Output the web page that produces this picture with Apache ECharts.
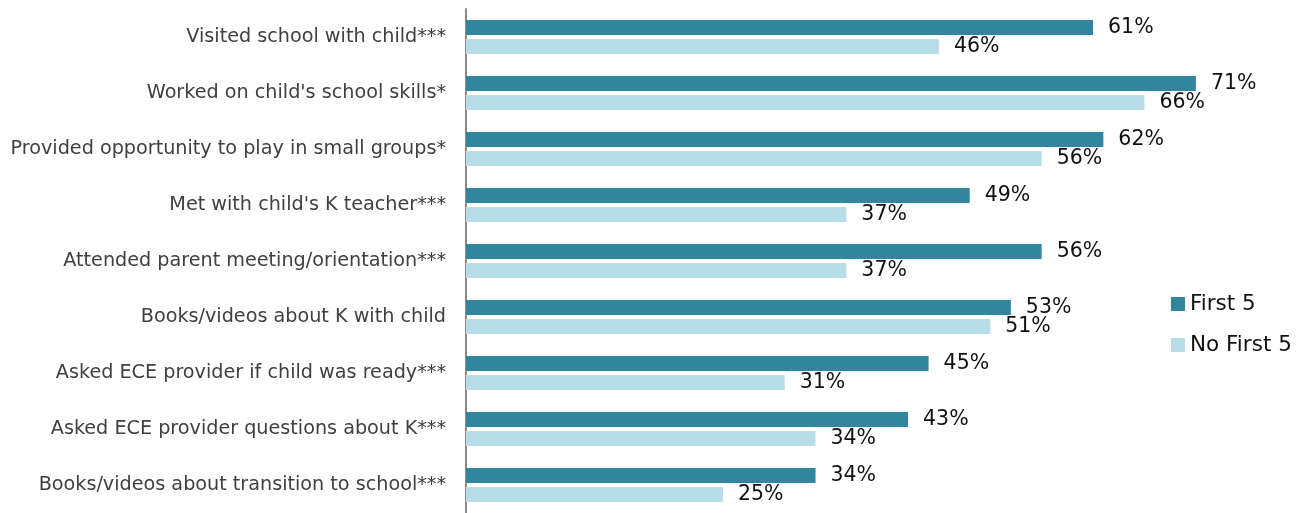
<!DOCTYPE html>
<html><head><meta charset="utf-8">
<script src="https://cdn.jsdelivr.net/npm/echarts@6/dist/echarts.min.js"></script>
<style>html,body{margin:0;padding:0;background:#fff}#c{width:1303px;height:513px}</style>
</head><body><div id="c"></div>
<script>
const categories = [
  "Visited school with child***",
  "Worked on child's school skills*",
  "Provided opportunity to play in small groups*",
  "Met with child's K teacher***",
  "Attended parent meeting/orientation***",
  "Books/videos about K with child",
  "Asked ECE provider if child was ready***",
  "Asked ECE provider questions about K***",
  "Books/videos about transition to school***"
];
const first5 = [61, 71, 62, 49, 56, 53, 45, 43, 34];
const noFirst5 = [46, 66, 56, 37, 37, 51, 31, 34, 25];
const seriesNames = ["First 5", "No First 5"];

const FONT = "DejaVu Sans";
const chart = echarts.init(document.getElementById('c'));
chart.setOption({
  animation: false,
  textStyle: {fontFamily: FONT},
  grid: {left: 466, top: 9, height: 507, width: 822.4, containLabel: false},
  legend: {
    orient: 'vertical', left: 1166, top: 288, itemWidth: 14, itemHeight: 14, itemGap: 19,
    icon: 'rect',
    textStyle: {fontFamily: FONT, fontSize: 21.5, color: '#111'},
    data: seriesNames
  },
  xAxis: {type: 'value', min: 0, max: 80, show: false},
  yAxis: {
    type: 'category', data: categories, inverse: true,
    axisLine: {lineStyle: {color: '#8c8c8c', width: 2}},
    axisTick: {show: false},
    axisLabel: {margin: 20, fontFamily: FONT, fontSize: 19.2, color: '#404040'}
  },
  series: [
    {name: seriesNames[0], type: 'bar', data: first5, barWidth: 15, barGap: '27%',
     itemStyle: {color: '#31859C'},
     label: {show: true, position: 'right', distance: 15, formatter: '{c}%', fontFamily: FONT, fontSize: 20.5, color: '#111'}},
    {name: seriesNames[1], type: 'bar', data: noFirst5, barWidth: 15,
     itemStyle: {color: '#B7DEE8'},
     label: {show: true, position: 'right', distance: 15, formatter: '{c}%', fontFamily: FONT, fontSize: 20.5, color: '#111'}}
  ]
});
</script></body></html>
